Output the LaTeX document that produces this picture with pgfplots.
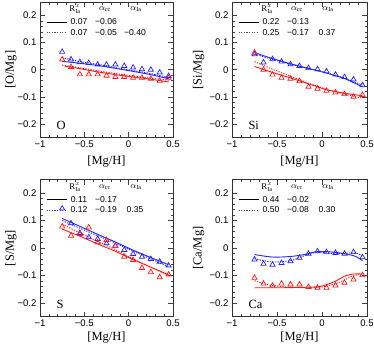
\documentclass[border=0pt]{standalone}
\usepackage{fontspec}
\setmainfont{Liberation Serif}
\setsansfont{Liberation Sans}
\usepackage{pgfplots}
\pgfplotsset{compat=1.18}

\definecolor{cblue}{RGB}{35,35,255}
\definecolor{cred}{RGB}{255,25,25}

\pgfplotsset{
  panel/.style={
    scale only axis,
    xmin=-1, xmax=0.5, ymin=-0.25, ymax=0.25,
    xtick={-1,-0.5,0,0.5}, xticklabels={−1,−0.5,0,0.5},
    ytick={-0.2,-0.1,0,0.1,0.2}, yticklabels={−0.2,−0.1,0,0.1,0.2},
    minor x tick num=4, minor y tick num=4,
    tick align=inside,
    major tick length=5bp, minor tick length=2.5bp,
    tick style={black!75, line width=0.5bp},
    axis line style={black!80, line width=0.7bp},
    ticklabel style={font=\sffamily\fontsize{9.6bp}{11bp}\selectfont},
    label style={font=\fontsize{12.5bp}{14bp}\selectfont},
    xlabel={[Mg/H]},
    xlabel style={at={(axis description cs:0.5,0)}, anchor=center},
  },
  bmk/.style={cblue, only marks, mark=triangle, mark size=3bp, mark options={line width=0.7bp}},
  rmk/.style={cred, only marks, mark=triangle, mark size=3bp, mark options={line width=0.7bp}},
  bsol/.style={cblue, line width=0.9bp, no marks},
  rsol/.style={cred, line width=0.9bp, no marks},
  bdot/.style={cblue, line width=0.9bp, dash pattern=on 1.3bp off 1.3bp, no marks},
  rdot/.style={cred, line width=0.9bp, dash pattern=on 1.3bp off 1.3bp, no marks},
}
\tikzset{
  hdr/.style={inner sep=0bp, font=\fontsize{8.8bp}{9bp}\selectfont},
  num/.style={inner sep=0bp, font=\sffamily\fontsize{8.6bp}{9bp}\selectfont},
}

% legend block: R, alpha_cc (solid), R, alpha_cc, alpha_Ia (dotted)
\newcommand{\legblock}[5]{%
  \node[hdr] at ([xshift=35bp,yshift=-7.5bp]rel axis cs:0,1) {R$^{x}_{\mathrm{Ia}}$};
  \node[hdr] at ([xshift=65bp,yshift=-7.5bp]rel axis cs:0,1) {$\alpha_{\mathrm{cc}}$};
  \node[hdr] at ([xshift=96bp,yshift=-7.5bp]rel axis cs:0,1) {$\alpha_{\mathrm{Ia}}$};
  \draw[black, line width=0.7bp] ([xshift=6.5bp,yshift=-20bp]rel axis cs:0,1) -- ([xshift=27bp,yshift=-20bp]rel axis cs:0,1);
  \draw[black!70, line width=0.7bp, dash pattern=on 1.3bp off 1.3bp] ([xshift=6.5bp,yshift=-30.5bp]rel axis cs:0,1) -- ([xshift=27bp,yshift=-30.5bp]rel axis cs:0,1);
  \node[num] at ([xshift=39bp,yshift=-20bp]rel axis cs:0,1) {#1};
  \node[num] at ([xshift=66bp,yshift=-20bp]rel axis cs:0,1) {#2};
  \node[num] at ([xshift=39bp,yshift=-30.5bp]rel axis cs:0,1) {#3};
  \node[num] at ([xshift=66bp,yshift=-30.5bp]rel axis cs:0,1) {#4};
  \node[num] at ([xshift=95bp,yshift=-30.5bp]rel axis cs:0,1) {#5};
}
\newcommand{\elem}[1]{%
  \node[anchor=base west, font=\fontsize{12.5bp}{14bp}\selectfont] at ([xshift=13bp,yshift=8bp]rel axis cs:0,0) {#1};
}

\begin{document}
\begin{tikzpicture}
\path[use as bounding box] (0,0) rectangle (374bp,-349bp);

%% O
\begin{axis}[panel, at={(40bp,-2bp)}, anchor=north west, width=133bp, height=135.5bp,
  ylabel={[O/Mg]}, ylabel style={at={(axis description cs:-0.218,0.5)}, anchor=center},
  xlabel style={yshift=-24.5bp}]
\addplot[bsol] coordinates {(-0.75,0.031)(-0.55,0.024)(-0.35,0.016)(-0.15,0.005)(0.05,-0.006)(0.25,-0.018)(0.45,-0.033)};
\addplot[bdot] coordinates {(-0.75,0.045)(-0.55,0.030)(-0.35,0.020)(-0.15,0.008)(0.05,-0.003)(0.25,-0.014)(0.45,-0.029)};
\addplot[rsol] coordinates {(-0.72,0.013)(-0.55,0.004)(-0.35,-0.008)(-0.15,-0.018)(0.05,-0.027)(0.25,-0.035)(0.45,-0.045)};
\addplot[rdot] coordinates {(-0.75,0.017)(-0.55,0.007)(-0.35,-0.004)(-0.15,-0.014)(0.05,-0.023)(0.25,-0.031)(0.45,-0.039)};
\addplot[bmk] coordinates {(-0.75,0.066)(-0.65,0.038)(-0.55,0.028)(-0.45,0.025)(-0.35,0.019)(-0.25,0.019)(-0.15,0.019)(-0.05,0.014)(0.05,0.008)(0.15,0.002)(0.25,0.0)(0.35,-0.010)(0.45,-0.023)};
\addplot[rmk] coordinates {(-0.75,0.038)(-0.65,0.010)(-0.55,-0.017)(-0.45,-0.017)(-0.35,-0.017)(-0.25,-0.022)(-0.15,-0.027)(-0.05,-0.027)(0.05,-0.030)(0.15,-0.030)(0.25,-0.033)(0.35,-0.041)(0.45,-0.030)};
\legblock{0.07}{−0.06}{0.07}{−0.05}{−0.40}
\elem{O}
\end{axis}

%% Si
\begin{axis}[panel, at={(232bp,-2bp)}, anchor=north west, width=135bp, height=135.5bp,
  ylabel={[Si/Mg]}, ylabel style={at={(axis description cs:-0.248,0.5)}, anchor=center},
  xlabel style={yshift=-24.5bp}]
\addplot[bsol] coordinates {(-0.75,0.063)(-0.55,0.041)(-0.35,0.022)(-0.15,0.005)(0.05,-0.012)(0.25,-0.032)(0.45,-0.063)};
\addplot[bdot] coordinates {(-0.75,0.058)(-0.55,0.038)(-0.35,0.020)(-0.15,0.004)(0.05,-0.011)(0.25,-0.030)(0.45,-0.057)};
\addplot[rsol] coordinates {(-0.75,0.012)(-0.55,-0.010)(-0.35,-0.030)(-0.15,-0.052)(0.05,-0.074)(0.25,-0.087)(0.45,-0.096)};
\addplot[rdot] coordinates {(-0.75,0.030)(-0.55,0.002)(-0.35,-0.024)(-0.15,-0.050)(0.05,-0.072)(0.25,-0.090)(0.45,-0.105)};
\addplot[bmk] coordinates {(-0.75,0.057)(-0.65,0.027)(-0.55,0.039)(-0.45,0.030)(-0.35,0.020)(-0.25,0.014)(-0.15,0.006)(-0.05,0.002)(0.05,-0.006)(0.15,-0.018)(0.25,-0.027)(0.35,-0.036)(0.45,-0.057)};
\addplot[rmk] coordinates {(-0.75,0.063)(-0.65,0.0)(-0.55,-0.018)(-0.45,-0.030)(-0.35,-0.033)(-0.25,-0.042)(-0.15,-0.063)(-0.05,-0.070)(0.05,-0.078)(0.15,-0.084)(0.25,-0.090)(0.35,-0.100)(0.45,-0.093)};
\legblock{0.22}{−0.13}{0.25}{−0.17}{0.37}
\elem{Si}
\end{axis}

%% S
\begin{axis}[panel, at={(40bp,-179.5bp)}, anchor=north west, width=133bp, height=137bp,
  ylabel={[S/Mg]}, ylabel style={at={(axis description cs:-0.218,0.5)}, anchor=center},
  xlabel style={yshift=-21bp}]
\addplot[bsol] coordinates {(-0.75,0.108)(-0.55,0.079)(-0.35,0.050)(-0.15,0.022)(0.05,-0.008)(0.25,-0.035)(0.45,-0.061)};
\addplot[bdot] coordinates {(-0.75,0.100)(-0.55,0.072)(-0.35,0.045)(-0.15,0.018)(0.05,-0.012)(0.25,-0.040)(0.45,-0.068)};
\addplot[rsol] coordinates {(-0.75,0.069)(-0.55,0.043)(-0.35,0.015)(-0.15,-0.012)(0.05,-0.042)(0.25,-0.070)(0.45,-0.098)};
\addplot[rdot] coordinates {(-0.75,0.087)(-0.55,0.055)(-0.35,0.024)(-0.15,-0.006)(0.05,-0.040)(0.25,-0.070)(0.45,-0.100)};
\addplot[bmk] coordinates {(-0.75,0.144)(-0.65,0.090)(-0.55,0.055)(-0.45,0.039)(-0.35,0.033)(-0.25,0.017)(-0.15,0.008)(-0.05,-0.007)(0.05,-0.022)(0.15,-0.032)(0.25,-0.040)(0.35,-0.050)(0.45,-0.064)};
\addplot[rmk] coordinates {(-0.75,0.078)(-0.65,0.045)(-0.55,0.051)(-0.45,0.075)(-0.35,0.021)(-0.25,0.029)(-0.15,0.008)(-0.05,-0.032)(0.05,-0.044)(0.15,-0.073)(0.25,-0.088)(0.35,-0.107)(0.45,-0.097)};
\legblock{0.11}{−0.17}{0.12}{−0.19}{0.35}
\elem{S}
\end{axis}

%% Ca
\begin{axis}[panel, at={(232bp,-179.5bp)}, anchor=north west, width=135bp, height=137bp,
  ylabel={[Ca/Mg]}, ylabel style={at={(axis description cs:-0.248,0.5)}, anchor=center},
  xlabel style={yshift=-21bp}]
\addplot[bsol, smooth] coordinates {(-0.75,-0.024)(-0.55,-0.033)(-0.35,-0.031)(-0.2,-0.024)(-0.05,-0.013)(0.15,-0.016)(0.35,-0.028)(0.45,-0.046)};
\addplot[bdot, smooth] coordinates {(-0.75,-0.039)(-0.55,-0.051)(-0.35,-0.046)(-0.2,-0.029)(-0.05,-0.015)(0.15,-0.021)(0.35,-0.018)(0.45,-0.027)};
\addplot[rsol, smooth] coordinates {(-0.75,-0.145)(-0.45,-0.145)(-0.15,-0.143)(0.0,-0.139)(0.15,-0.121)(0.25,-0.103)(0.35,-0.095)(0.45,-0.095)};
\addplot[rdot, smooth] coordinates {(-0.75,-0.119)(-0.62,-0.133)(-0.4,-0.142)(-0.1,-0.145)(0.05,-0.139)(0.2,-0.124)(0.35,-0.101)(0.45,-0.097)};
\addplot[bmk] coordinates {(-0.75,-0.042)(-0.65,-0.058)(-0.55,-0.061)(-0.45,-0.055)(-0.35,-0.048)(-0.25,-0.036)(-0.15,-0.021)(-0.05,-0.012)(0.05,-0.015)(0.15,-0.018)(0.25,-0.021)(0.35,-0.015)(0.45,-0.034)};
\addplot[rmk] coordinates {(-0.75,-0.109)(-0.65,-0.130)(-0.55,-0.137)(-0.45,-0.130)(-0.35,-0.133)(-0.25,-0.133)(-0.15,-0.142)(-0.05,-0.145)(0.05,-0.145)(0.15,-0.137)(0.25,-0.127)(0.35,-0.115)(0.45,-0.099)};
\legblock{0.44}{−0.02}{0.50}{−0.08}{0.30}
\elem{Ca}
\end{axis}
\end{tikzpicture}
\end{document}
